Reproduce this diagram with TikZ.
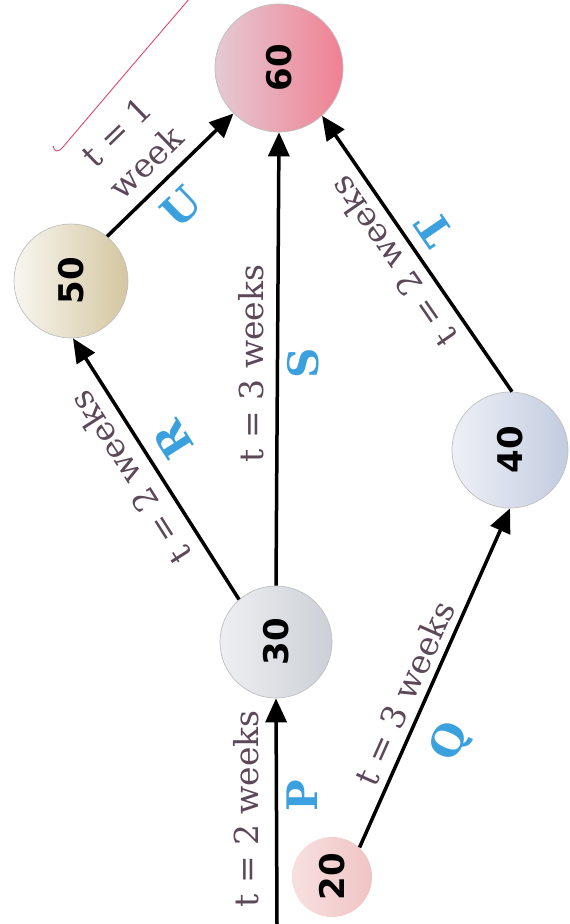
\documentclass[tikz,border=0pt]{standalone}
\usepackage{fontspec}
\usepackage{graphicx}
\setmainfont{DejaVu Serif}
\newfontfamily\numfont{DejaVu Sans}
\usetikzlibrary{arrows.meta}
\definecolor{lbl}{RGB}{92,72,88}
\definecolor{blu}{RGB}{58,160,222}
\definecolor{penred}{RGB}{225,70,110}
\begin{document}
\begin{tikzpicture}[x=1pt,y=1pt,
  ev/.style={circle, draw=black!25, line width=0.7pt, inner sep=0pt,
    font=\numfont\fontsize{34}{36}\selectfont\bfseries},
  act/.style={line width=3.5pt, -{Triangle[length=24pt,width=21pt]}},
  tl/.style={text=lbl, font=\fontsize{33}{42}\selectfont, inner sep=11pt, anchor=south},
  al/.style={text=blu, font=\fontsize{42}{44}\selectfont\bfseries, inner sep=10pt, anchor=north},
  pen/.style={draw=penred, line width=0.9pt},
]
\useasboundingbox (0,0) rectangle (570,924);

% events
\node[ev, minimum size=128pt, left color={rgb,255:red,228;green,202;blue,212}, right color={rgb,255:red,240;green,128;blue,146}] (n60) at (279,856) {\rotatebox{90}{60}};
\node[ev, minimum size=114pt, left color={rgb,255:red,248;green,246;blue,240}, right color={rgb,255:red,212;green,198;blue,160}] (n50) at (71,643) {\rotatebox{90}{50}};
\node[ev, minimum size=116pt, left color={rgb,255:red,238;green,240;blue,246}, right color={rgb,255:red,194;green,204;blue,224}] (n40) at (510,474) {\rotatebox{90}{40}};
\node[ev, minimum size=112pt, left color={rgb,255:red,238;green,239;blue,242}, right color={rgb,255:red,204;green,208;blue,214}] (n30) at (276,282) {\rotatebox{90}{30}};
\node[ev, minimum size=80pt, draw=none, left color={rgb,255:red,248;green,224;blue,224}, right color={rgb,255:red,240;green,196;blue,196}] (n20) at (332,47) {\rotatebox{90}{20}};
\coordinate (s) at (277,0);

% activities
\draw[act] (s) -- node[tl, pos=0.51, rotate=90, inner sep=16pt] {t = 2 weeks}
                  node[al, pos=0.57, rotate=90, inner sep=9pt] {P} (n30.-90);
\draw[act] (n20.47) -- node[tl, pos=0.43, rotate=66, inner sep=7pt] {t = 3 weeks}
                       node[al, pos=0.36, rotate=66, inner sep=20pt] {Q} (n40.-90);
\draw[act] (n30.131) -- node[tl, pos=0.52, rotate=122.4, inner sep=12pt] {t = 2 weeks}
                        node[al, pos=0.55, rotate=122.4, inner sep=13pt] {R} (n50.-88);
\draw[act] (n30.90) -- node[tl, pos=0.49, rotate=90, inner sep=12pt] {t = 3 weeks}
                       node[al, pos=0.49, rotate=90, inner sep=8pt] {S} (n60.-90);
\draw[act] (n40.88) -- node[tl, pos=0.52, rotate=124.5, inner sep=10pt] {t = 2 weeks}
                       node[al, pos=0.53, rotate=124.5, inner sep=11pt] {T} (n60.-48);
\draw[act] (n50.51) -- node[tl, pos=0.45, rotate=44, align=center, inner sep=12pt] {t = 1\\week}
                       node[al, pos=0.42, rotate=44, inner sep=13pt] {U} (n60.-135);

% pen mark
\draw[pen] (190,926) .. controls (125,850) .. (63,777) .. controls (58,771) and (54,772) .. (53,778);
\end{tikzpicture}
\end{document}
